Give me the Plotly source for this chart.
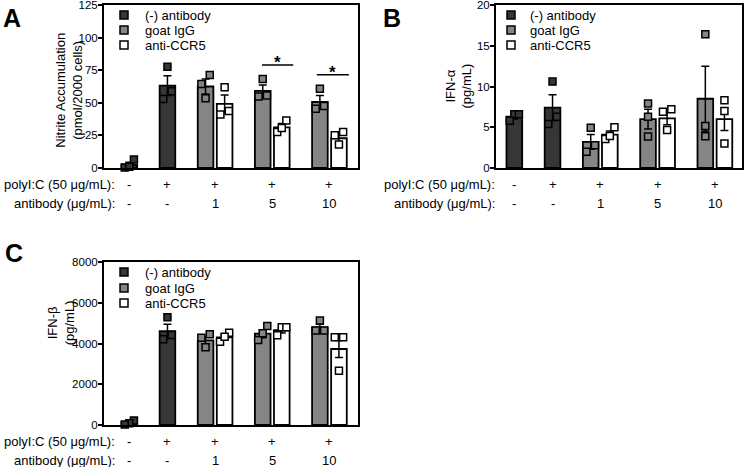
import plotly.graph_objects as go

W, H = 744, 467
FONT = "Liberation Sans, Arial, sans-serif"

# ---------------- categories / labels ----------------
SERIES = ["(-) antibody", "goat IgG", "anti-CCR5"]
POLY_LABELS = ["-", "+", "+", "+", "+"]
AB_LABELS = ["-", "-", "1", "5", "10"]
ROW_TITLES = ["polyI:C (50 \u03bcg/mL):", "antibody (\u03bcg/mL):"]
GROUP_POS = [0, 2, 4.5, 7.5, 10.5]
NEG_POS = [0, 2]
GOAT_POS = [4, 7, 10]
ANTI_POS = [5, 8, 11]

# ---------------- panel A: nitrite ----------------
A_NEG_MEAN = [2.5, 63.2]
A_NEG_SEM = [1.9, 7.6]
A_NEG_PTS = [[0.3, 1.0, 6.5], [77.7, 53.0, 58.9]]
A_GOAT_MEAN = [62.5, 59.2, 50.6]
A_GOAT_SEM = [5.8, 4.5, 5.0]
A_GOAT_PTS = [[71.3, 64.5, 53.5], [68.3, 54.8, 55.6], [60.7, 45.4, 47.5]]
A_ANTI_MEAN = [49.2, 31.2, 22.8]
A_ANTI_SEM = [6.8, 3.0, 3.2]
A_ANTI_PTS = [[61.9, 41.1, 43.7], [36.5, 27.7, 30.7], [27.7, 18.0, 25.1]]
A_SIG_X0 = [6.96, 9.84]
A_SIG_X1 = [8.60, 11.52]
A_SIG_Y = [78.9, 71.6]
A_TICKS = [0, 25, 50, 75, 100, 125]

# ---------------- panel B: IFN-alpha ----------------
B_NEG_MEAN = [6.3, 7.4]
B_NEG_SEM = [0.3, 1.6]
B_NEG_PTS = [[6.6, 6.6, 5.8], [10.6, 6.3, 5.4]]
B_GOAT_MEAN = [3.2, 6.0, 8.5]
B_GOAT_SEM = [0.9, 1.2, 4.0]
B_GOAT_PTS = [[4.95, 2.0, 2.8], [7.9, 6.3, 3.85], [16.4, 5.15, 3.9]]
B_ANTI_MEAN = [4.1, 6.1, 6.0]
B_ANTI_SEM = [0.45, 0.8, 1.4]
B_ANTI_PTS = [[5.0, 3.56, 3.93], [7.2, 6.9, 4.66], [8.3, 7.0, 3.0]]
B_TICKS = [0, 5, 10, 15, 20]

# ---------------- panel C: IFN-beta ----------------
C_NEG_MEAN = [110, 4600]
C_NEG_SEM = [70, 340]
C_NEG_PTS = [[220, 80, 20], [5286, 4206, 4419]]
C_GOAT_MEAN = [4150, 4480, 4790]
C_GOAT_SEM = [190, 200, 160]
C_GOAT_PTS = [[4452, 3814, 4288], [4861, 4173, 4500], [5123, 4632, 4632]]
C_ANTI_MEAN = [4300, 4650, 3730]
C_ANTI_SEM = [130, 140, 420]
C_ANTI_PTS = [[4090, 4530, 4334], [4800, 4800, 4400], [4304, 4304, 2668]]
C_TICKS = [0, 2000, 4000, 6000, 8000]

# ---------------- styles ----------------
FILLS = ["#363636", "#858585", "#ffffff"]
BAR_W = 0.82


def fx(px):
    return px / W


def fy(py):
    return 1 - py / H


def jitter(vals, thr):
    order = sorted(range(len(vals)), key=lambda i: vals[i])
    clusters = []
    for i in order:
        if clusters and vals[i] - vals[clusters[-1][-1]] < thr:
            clusters[-1].append(i)
        else:
            clusters.append([i])
    off = [0.0] * len(vals)
    for c in clusters:
        n = len(c)
        step = 0.44 if n == 2 else 0.24
        for k, i in enumerate(c):
            off[i] = (k - (n - 1) / 2) * step
    return off


PANELS = [
    dict(n=1, letter="A", dom_x=(104, 358), dom_y=(5, 168), xr=[-1.33, 12.0],
         yr=[0, 125], ticks=A_TICKS,
         title="Nitrite Accumulation<br>(pmol/2000 cells)", t_shift=-35, t_y=0.48,
         series=[(NEG_POS, A_NEG_MEAN, A_NEG_SEM, A_NEG_PTS),
                 (GOAT_POS, A_GOAT_MEAN, A_GOAT_SEM, A_GOAT_PTS),
                 (ANTI_POS, A_ANTI_MEAN, A_ANTI_SEM, A_ANTI_PTS)],
         thr=6.9, leg=(124, 143, [15, 30, 45]), row_right=117, letter_px=(1, 2),
         sig=(A_SIG_X0, A_SIG_X1, A_SIG_Y)),
    dict(n=2, letter="B", dom_x=(496, 742), dom_y=(5, 168), xr=[-0.96, 11.92],
         yr=[0, 20], ticks=B_TICKS,
         title="IFN-\u03b1<br>(pg/mL)", t_shift=-38, t_y=0.5,
         series=[(NEG_POS, B_NEG_MEAN, B_NEG_SEM, B_NEG_PTS),
                 (GOAT_POS, B_GOAT_MEAN, B_GOAT_SEM, B_GOAT_PTS),
                 (ANTI_POS, B_ANTI_MEAN, B_ANTI_SEM, B_ANTI_PTS)],
         thr=1.1, leg=(511, 528, [15, 30, 45]), row_right=497, letter_px=(381, 2),
         sig=None),
    dict(n=3, letter="C", dom_x=(104, 358), dom_y=(262, 425), xr=[-1.33, 12.0],
         yr=[0, 8000], ticks=C_TICKS,
         title="IFN-\u03b2<br>(pg/mL)", t_shift=-43, t_y=0.63,
         series=[(NEG_POS, C_NEG_MEAN, C_NEG_SEM, C_NEG_PTS),
                 (GOAT_POS, C_GOAT_MEAN, C_GOAT_SEM, C_GOAT_PTS),
                 (ANTI_POS, C_ANTI_MEAN, C_ANTI_SEM, C_ANTI_PTS)],
         thr=440, leg=(124, 143, [272, 288, 303]), row_right=117, letter_px=(3, 237),
         sig=None),
]

fig = go.Figure()
annotations = []
shapes = []
layout_axes = {}

for P in PANELS:
    n = P["n"]
    xa = "x" if n == 1 else f"x{n}"
    ya = "y" if n == 1 else f"y{n}"
    xkey = "xaxis" if n == 1 else f"xaxis{n}"
    ykey = "yaxis" if n == 1 else f"yaxis{n}"

    # bars with error bars
    for si, (pos, mean, sem, pts) in enumerate(P["series"]):
        fig.add_trace(go.Bar(
            x=pos, y=mean, width=BAR_W, xaxis=xa, yaxis=ya,
            marker=dict(color=FILLS[si], line=dict(color="black", width=1.8)),
            error_y=dict(type="data", array=sem, visible=True, color="black",
                         thickness=1.5, width=4),
            showlegend=False, hoverinfo="skip"))
    # replicate points
    for si, (pos, mean, sem, pts) in enumerate(P["series"]):
        xs, ys = [], []
        for p, vals in zip(pos, pts):
            offs = jitter(vals, P["thr"])
            xs += [p + o for o in offs]
            ys += vals
        fig.add_trace(go.Scatter(
            x=xs, y=ys, mode="markers", xaxis=xa, yaxis=ya,
            marker=dict(symbol="square", size=7, color=FILLS[si],
                        line=dict(color="black", width=1.5)),
            showlegend=False, hoverinfo="skip", cliponaxis=False))

    x0, x1 = P["dom_x"]
    y0, y1 = P["dom_y"]
    layout_axes[xkey] = dict(
        domain=[fx(x0), fx(x1)], range=P["xr"], anchor=ya, automargin=False,
        showline=True, linecolor="black", linewidth=2, mirror=True,
        showticklabels=False, ticks="", showgrid=False, zeroline=False)
    layout_axes[ykey] = dict(
        domain=[fy(y1), fy(y0)], range=P["yr"], anchor=xa, automargin=False,
        showline=True, linecolor="black", linewidth=2, mirror=True,
        tickvals=P["ticks"], tickformat="d", ticks="outside", ticklen=4,
        tickwidth=1.5, tickcolor="black", ticklabeloverflow="allow",
        ticklabelstandoff=-2,
        tickfont=dict(family=FONT, size=11.5, color="black"),
        showgrid=False, zeroline=False)

    # y title
    annotations.append(dict(
        text=P["title"], xref=f"{xa} domain", yref=f"{ya} domain",
        x=0, y=P["t_y"], xshift=P["t_shift"], xanchor="center", yanchor="middle",
        textangle=-90, showarrow=False,
        font=dict(family=FONT, size=13, color="black")))

    # category rows
    for lbls, shift, title in [(POLY_LABELS, -16, ROW_TITLES[0]),
                               (AB_LABELS, -35, ROW_TITLES[1])]:
        for gp, lab in zip(GROUP_POS, lbls):
            annotations.append(dict(
                text=lab, xref=xa, yref=f"{ya} domain", x=gp, y=0, yshift=shift,
                xanchor="center", yanchor="middle", showarrow=False,
                font=dict(family=FONT, size=13, color="black")))
        annotations.append(dict(
            text=title, xref="paper", yref=f"{ya} domain",
            x=fx(P["row_right"]), y=0, yshift=shift,
            xanchor="right", yanchor="middle", showarrow=False,
            font=dict(family=FONT, size=13, color="black")))

    # legend (drawn)
    lx, tx, lys = P["leg"]
    for si, ly in enumerate(lys):
        shapes.append(dict(
            type="rect", xref="paper", yref="paper",
            x0=fx(lx - 4), x1=fx(lx + 4), y0=fy(ly + 4), y1=fy(ly - 4),
            fillcolor=FILLS[si], line=dict(color="black", width=1.5)))
        annotations.append(dict(
            text=SERIES[si], xref="paper", yref="paper", x=fx(tx), y=fy(ly),
            xanchor="left", yanchor="middle", showarrow=False,
            font=dict(family=FONT, size=13, color="black")))

    # panel letter
    lpx, lpy = P["letter_px"]
    annotations.append(dict(
        text=f"<b>{P['letter']}</b>", xref="paper", yref="paper",
        x=fx(lpx), y=fy(lpy), xanchor="left", yanchor="top", showarrow=False,
        font=dict(family=FONT, size=25, color="black")))

    # significance bars
    if P["sig"]:
        for sx0, sx1, sy in zip(*P["sig"]):
            shapes.append(dict(type="line", xref=xa, yref=ya, x0=sx0, x1=sx1,
                               y0=sy, y1=sy, line=dict(color="black", width=1.5)))
            annotations.append(dict(
                text="<b>*</b>", xref=xa, yref=ya, x=(sx0 + sx1) / 2, y=sy,
                xanchor="center", yanchor="bottom", yshift=-9, showarrow=False,
                font=dict(family=FONT, size=17, color="black")))

fig.update_layout(
    width=W, height=H, margin=dict(l=0, r=0, t=0, b=0),
    paper_bgcolor="white", plot_bgcolor="white",
    barmode="overlay", showlegend=False,
    annotations=annotations, shapes=shapes,
    font=dict(family=FONT, color="black"),
    **layout_axes)

fig.write_html("out.html", config={"displayModeBar": False},
               post_script="document.body.style.margin='0';")
